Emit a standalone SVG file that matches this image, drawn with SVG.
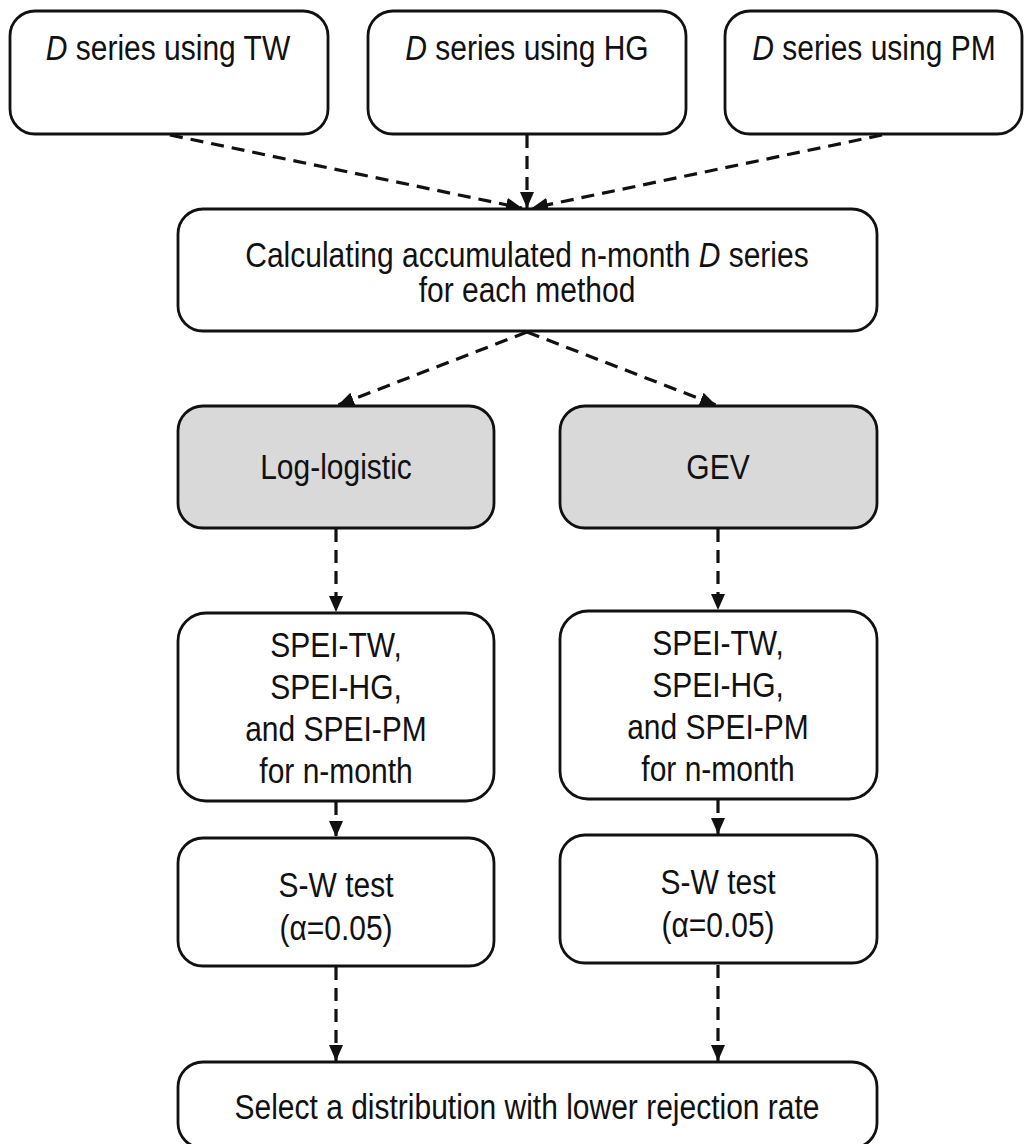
<svg xmlns="http://www.w3.org/2000/svg" width="1034" height="1144" viewBox="0 0 1034 1144">
<style>
  .box { fill: #ffffff; stroke: #111111; stroke-width: 2.8; }
  .gray { fill: #d9d9d9; }
  .t { font-family: "Liberation Sans", Arial, sans-serif; font-size: 30px; fill: #111111; text-anchor: middle; transform-box: fill-box; transform-origin: center; transform: scaleY(1.14); }
  .it { font-style: italic; }
  .c { fill: none; stroke: #111111; stroke-width: 3.2; stroke-dasharray: 13 8; }
</style>
<defs>
  <marker id="ah" markerUnits="userSpaceOnUse" viewBox="0 0 16 14" refX="16" refY="7" markerWidth="16" markerHeight="14" orient="auto">
    <path d="M0,0 L16,7 L0,14 z" fill="#111111"/>
  </marker>
</defs>
<rect width="1034" height="1144" fill="#ffffff"/>

<g id="connectors">
  <line class="c" x1="170" y1="135" x2="522" y2="208" marker-end="url(#ah)"/>
  <line class="c" x1="527" y1="135" x2="527" y2="208" marker-end="url(#ah)"/>
  <line class="c" x1="882" y1="135" x2="532" y2="208" marker-end="url(#ah)"/>
  <line class="c" x1="527" y1="332" x2="338" y2="405" marker-end="url(#ah)"/>
  <line class="c" x1="527" y1="332" x2="716" y2="405" marker-end="url(#ah)"/>
  <line class="c" x1="336" y1="529" x2="336" y2="612" marker-end="url(#ah)"/>
  <line class="c" x1="718" y1="529" x2="718" y2="610" marker-end="url(#ah)"/>
  <line class="c" x1="336" y1="802" x2="336" y2="837" marker-end="url(#ah)"/>
  <line class="c" x1="718" y1="800" x2="718" y2="834" marker-end="url(#ah)"/>
  <line class="c" x1="336" y1="967" x2="336" y2="1061" marker-end="url(#ah)"/>
  <line class="c" x1="718" y1="965" x2="718" y2="1061" marker-end="url(#ah)"/>
</g>

<g id="n-tw">
  <rect class="box" x="10" y="11" width="318" height="123" rx="25"/>
  <text class="t" x="168" y="59"><tspan class="it">D</tspan> series using TW</text>
</g>
<g id="n-hg">
  <rect class="box" x="368" y="11" width="318" height="123" rx="25"/>
  <text class="t" x="527" y="59"><tspan class="it">D</tspan> series using HG</text>
</g>
<g id="n-pm">
  <rect class="box" x="725" y="11" width="297" height="123" rx="25"/>
  <text class="t" x="874" y="59"><tspan class="it">D</tspan> series using PM</text>
</g>

<g id="n-accum">
  <rect class="box" x="178" y="209" width="699" height="122" rx="25"/>
  <text class="t" x="527" y="266">Calculating accumulated n-month <tspan class="it">D</tspan> series</text>
  <text class="t" x="527" y="301">for each method</text>
</g>

<g id="n-loglogistic">
  <rect class="box gray" x="178" y="406" width="316" height="122" rx="25"/>
  <text class="t" x="336" y="478">Log-logistic</text>
</g>
<g id="n-gev">
  <rect class="box gray" x="560" y="406" width="317" height="122" rx="25"/>
  <text class="t" x="718" y="478">GEV</text>
</g>

<g id="n-spei-left">
  <rect class="box" x="178" y="613" width="316" height="188" rx="28"/>
  <text class="t" x="336" y="656">SPEI-TW,</text>
  <text class="t" x="336" y="698">SPEI-HG,</text>
  <text class="t" x="336" y="740">and SPEI-PM</text>
  <text class="t" x="336" y="782">for n-month</text>
</g>
<g id="n-spei-right">
  <rect class="box" x="560" y="611" width="317" height="188" rx="28"/>
  <text class="t" x="718" y="654">SPEI-TW,</text>
  <text class="t" x="718" y="696">SPEI-HG,</text>
  <text class="t" x="718" y="738">and SPEI-PM</text>
  <text class="t" x="718" y="780">for n-month</text>
</g>

<g id="n-sw-left">
  <rect class="box" x="178" y="838" width="316" height="128" rx="25"/>
  <text class="t" x="336" y="896">S-W test</text>
  <text class="t" x="336" y="939">(α=0.05)</text>
</g>
<g id="n-sw-right">
  <rect class="box" x="560" y="835" width="317" height="128" rx="25"/>
  <text class="t" x="718" y="893">S-W test</text>
  <text class="t" x="718" y="936">(α=0.05)</text>
</g>

<g id="n-select">
  <rect class="box" x="178" y="1062" width="699" height="86" rx="25"/>
  <text class="t" x="527" y="1118">Select a distribution with lower rejection rate</text>
</g>
</svg>
